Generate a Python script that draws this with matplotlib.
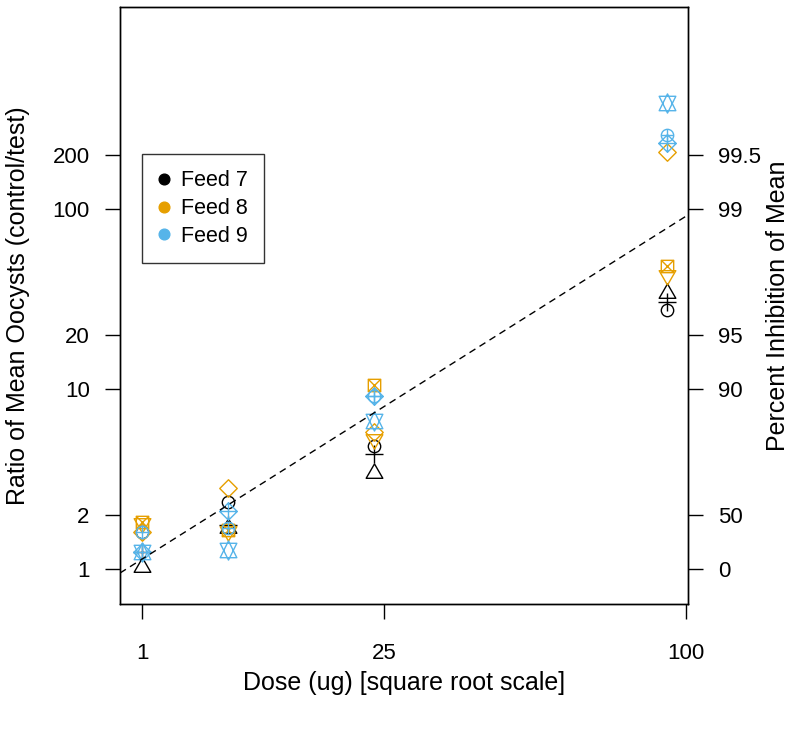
import numpy as np
import matplotlib
matplotlib.use("Agg")
import matplotlib.pyplot as plt
from matplotlib.path import Path
from matplotlib.lines import Line2D

# ---------------- data ----------------
dose = [1.0, 5.86, 23.4, 93.75]

# Feed 7 (black)
feed7_circle = [1.61, 2.35, 4.8, 27.5]
feed7_triangle = [1.03, 1.70, 3.4, 34.1]
feed7_plus = [1.25, 1.76, 4.35, 30.5]
# Feed 8 (orange)
feed8_diamond = [1.61, 2.81, 5.8, 207]
feed8_downtri = [1.80, 1.63, 5.3, 43]
feed8_sqx = [1.83, 1.65, 10.5, 48.4]
# Feed 9 (blue)
feed9_diamondplus = [1.25, 2.11, 9.15, 233]
feed9_circleplus = [1.61, 1.69, 9.15, 258]
feed9_star = [1.25, 1.27, 6.6, 388]

# fitted line: log10(ratio) = a + b*sqrt(dose)
fit_intercept = -0.157
fit_slope = 0.2117

left_ticks = [1, 2, 10, 20, 100, 200]
right_pct = [0, 50, 90, 95, 99, 99.5]
right_labels = ["0", "50", "90", "95", "99", "99.5"]
x_ticks = [1, 25, 100]

c7, c8, c9 = "black", "#E69F00", "#56B4E9"
legend_labels = ["Feed 7", "Feed 8", "Feed 9"]

# ---------------- R-like pch markers ----------------
def poly(pts):
    v = list(pts) + [pts[0]]
    c = [Path.MOVETO] + [Path.LINETO] * (len(pts) - 1) + [Path.CLOSEPOLY]
    return Path(v, c)

def seg(p1, p2):
    return Path([p1, p2], [Path.MOVETO, Path.LINETO])

circ = Path.circle((0, 0), 1.0)
s2 = np.sqrt(2)
tri_up = poly([(0, 1.555), (1.347, -0.777), (-1.347, -0.777)])
tri_dn = poly([(0, -1.555), (1.347, 0.777), (-1.347, 0.777)])
plus = Path.make_compound_path(seg((-s2, 0), (s2, 0)), seg((0, -s2), (0, s2)))
diam = poly([(0, s2), (s2, 0), (0, -s2), (-s2, 0)])
sqx = Path.make_compound_path(poly([(-1, -1), (1, -1), (1, 1), (-1, 1)]),
                              seg((-1, -1), (1, 1)), seg((-1, 1), (1, -1)))
diamplus = Path.make_compound_path(diam, seg((-s2, 0), (s2, 0)), seg((0, -s2), (0, s2)))
circplus = Path.make_compound_path(circ, seg((-1, 0), (1, 0)), seg((0, -1), (0, 1)))
yc = 0.5 * (0.777 + 1.555)
star = Path.make_compound_path(poly([(0, -1.555), (1.347, yc), (-1.347, yc)]),
                               poly([(0, 1.555), (1.347, -yc), (-1.347, -yc)]))

R_PT = 4.45  # circle radius in points

def msize(p):
    return 2 * np.max(np.abs(p.vertices)) * R_PT

# ---------------- figure ----------------
FS = 16
FS_LAB = 18
plt.rcParams['font.family'] = ['Liberation Sans', 'DejaVu Sans']
fig = plt.figure(figsize=(7.93, 7.31), dpi=100)
ax = fig.add_axes([120 / 793, 1 - 604 / 731, (688 - 120) / 793, (604 - 7) / 731])
ax.set_xscale('function', functions=(np.sqrt, lambda v: np.square(np.clip(v, 0, None))))
ax.set_yscale('log')
xlim = (0.636 ** 2, 10.033 ** 2)
ylim = (10 ** (-35 / 180), 10 ** (562 / 180))

series = [
    (feed7_circle, circ, c7), (feed7_triangle, tri_up, c7), (feed7_plus, plus, c7),
    (feed8_diamond, diam, c8), (feed8_downtri, tri_dn, c8), (feed8_sqx, sqx, c8),
    (feed9_diamondplus, diamplus, c9), (feed9_circleplus, circplus, c9), (feed9_star, star, c9),
]
for vals, mk, col in series:
    ax.plot(dose, vals, linestyle='none', marker=mk, markersize=msize(mk),
            markerfacecolor='none', markeredgecolor=col, markeredgewidth=1.0)

p1 = (1.0, 10 ** (fit_intercept + fit_slope * 1.0))
p2 = (100.0, 10 ** (fit_intercept + fit_slope * 10.0))
ax.axline(p1, p2, color='black', linewidth=1.0, linestyle=(0, (5, 3.5)))

ax.set_xlim(*xlim)
ax.set_ylim(*ylim)
ax.set_xticks(x_ticks)
ax.set_xticklabels([str(t) for t in x_ticks])
ax.set_yticks(left_ticks)
ax.set_yticklabels([str(t) for t in left_ticks])
ax.minorticks_off()
ax.tick_params(axis='x', direction='out', length=10.8, width=1, pad=17, labelsize=FS)
ax.tick_params(axis='y', direction='out', length=10.8, width=1, pad=11, labelsize=FS)
for s in ax.spines.values():
    s.set_linewidth(1.0)

ax2 = ax.twinx()
ax2.set_yscale('log')
ax2.set_ylim(*ylim)
ax2.set_yticks([1 / (1 - p / 100) for p in right_pct])
ax2.set_yticklabels(right_labels)
ax2.minorticks_off()
ax2.tick_params(axis='y', direction='out', length=10.8, width=1, pad=11, labelsize=FS)
for s in ax2.spines.values():
    s.set_linewidth(1.0)

fig.text(404 / 793, 1 - 683 / 731, "Dose (ug) [square root scale]", ha='center', va='center', fontsize=FS_LAB)
fig.text(18 / 793, 1 - 306 / 731, "Ratio of Mean Oocysts (control/test)", ha='center', va='center',
         rotation=90, fontsize=FS_LAB)
fig.text(778 / 793, 1 - 306 / 731, "Percent Inhibition of Mean", ha='center', va='center',
         rotation=90, fontsize=FS_LAB)

handles = [Line2D([], [], linestyle='none', marker='o', markersize=7.7, color=c)
           for c in (c7, c8, c9)]
leg = ax.legend(handles, legend_labels, loc='upper left',
                bbox_to_anchor=((142 - 120) / 568, (604 - 154) / 597),
                fontsize=15.5, frameon=True, fancybox=False, handlelength=0.5,
                handletextpad=0.55, borderpad=0.75, labelspacing=0.32, borderaxespad=0)
leg.get_frame().set_edgecolor('black')
leg.get_frame().set_linewidth(1.0)

fig.savefig("out.png", dpi=100)
